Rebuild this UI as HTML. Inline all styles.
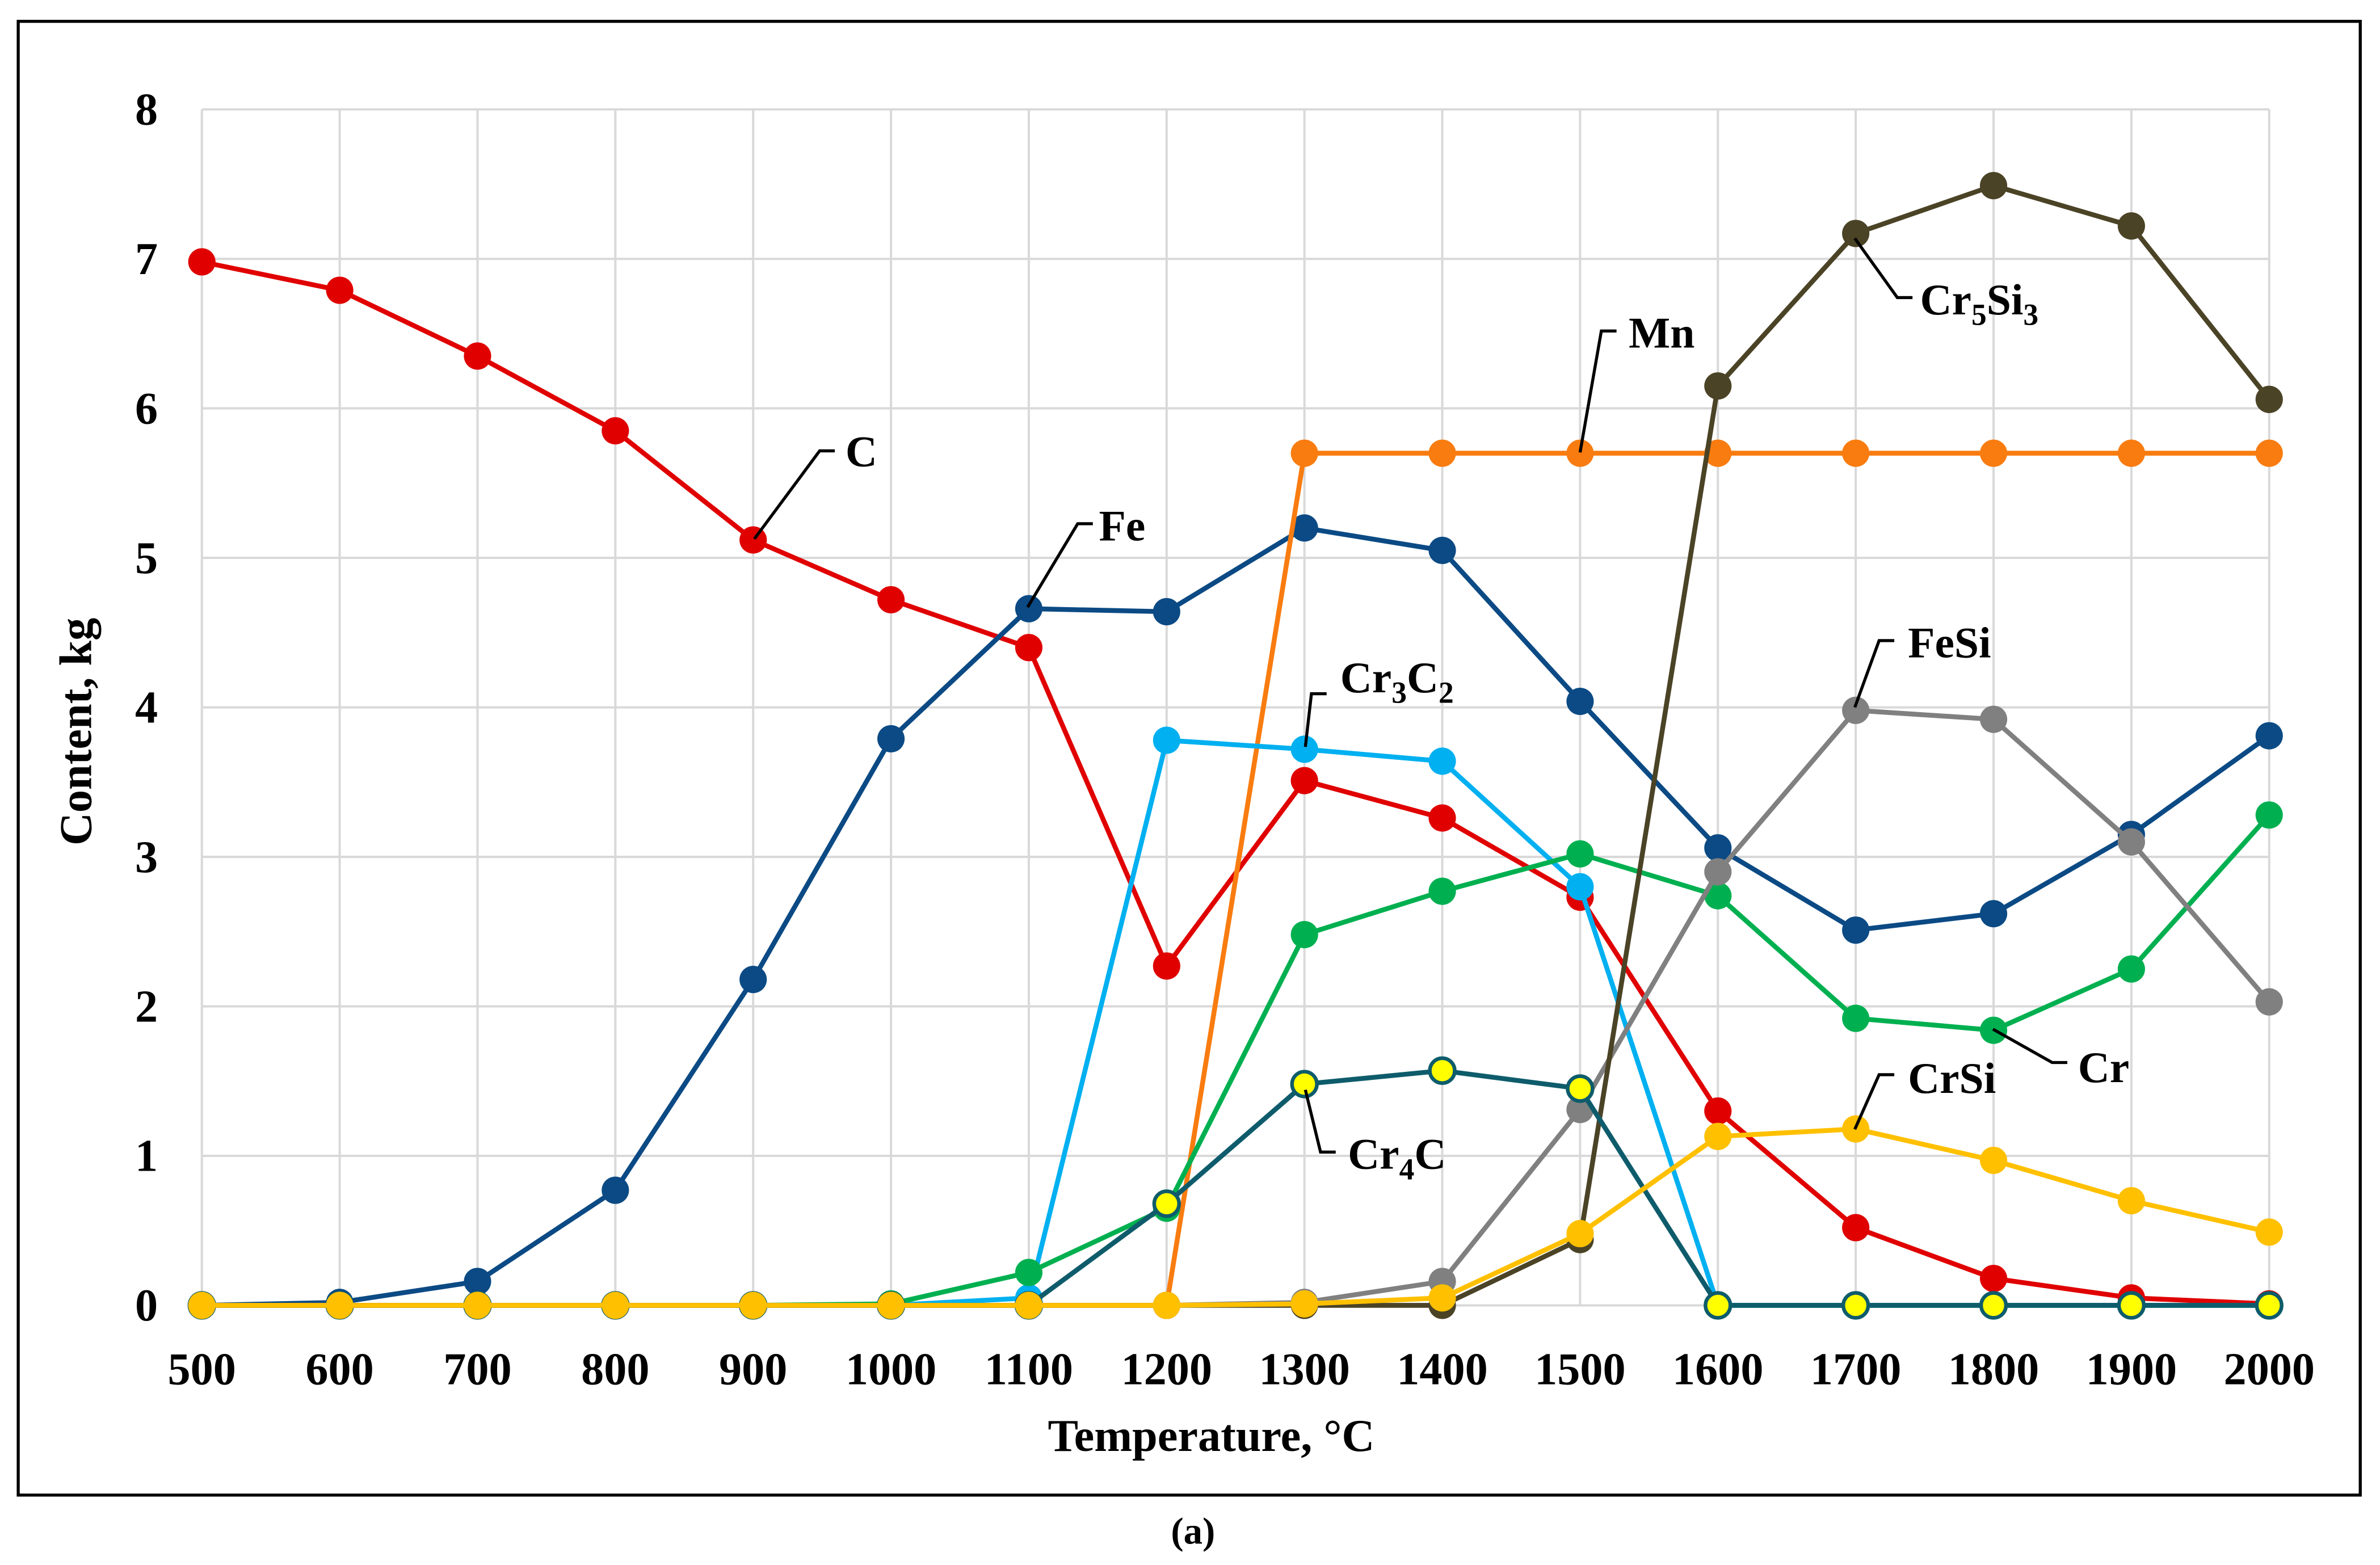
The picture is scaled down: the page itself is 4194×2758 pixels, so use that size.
<!DOCTYPE html>
<html><head><meta charset="utf-8"><style>
html,body{margin:0;padding:0;background:#fff;}
svg{display:block;}
text{font-family:"Liberation Serif",serif;font-weight:bold;fill:#000;}
</style></head><body>
<svg id="chart" width="4194" height="2758" viewBox="0 0 1568 1031" xmlns="http://www.w3.org/2000/svg">
<rect x="12" y="14" width="1543" height="971" fill="#fff" stroke="#000" stroke-width="2"/>
<g id="grid"></g>
<g id="series"></g>
<g id="axes"></g>
<text x="798" y="956" font-size="30" text-anchor="middle">Temperature, °C</text>
<text transform="translate(60,482) rotate(-90)" font-size="30" text-anchor="middle">Content, kg</text>
<text x="786" y="1017" font-size="25" text-anchor="middle" font-weight="normal">(<tspan font-weight="bold">a</tspan>)</text>
<g id="labels" font-size="29"></g>
</svg>
<script>
const temps = [500,600,700,800,900,1000,1100,1200,1300,1400,1500,1600,1700,1800,1900,2000];
const yTicks = [0,1,2,3,4,5,6,7,8];
const C = [6.98,6.79,6.35,5.85,5.12,4.72,4.40,2.27,3.51,3.26,2.73,1.30,0.52,0.18,0.05,0.01];
const Fe = [0,0.02,0.16,0.77,2.18,3.79,4.66,4.64,5.20,5.05,4.04,3.06,2.51,2.62,3.15,3.81];
const Mn = [0,0,0,0,0,0,0,0,5.70,5.70,5.70,5.70,5.70,5.70,5.70,5.70];
const Cr3C2 = [0,0,0,0,0,0,0.05,3.78,3.72,3.64,2.80,0,0,0,0,0];
const Cr = [0,0,0,0,0,0.01,0.22,0.65,2.48,2.77,3.02,2.74,1.92,1.84,2.25,3.28];
const FeSi = [0,0,0,0,0,0,0,0,0.02,0.16,1.31,2.90,3.98,3.92,3.10,2.03];
const Cr5Si3 = [0,0,0,0,0,0,0,0,0,0,0.44,6.15,7.17,7.49,7.22,6.06];
const Cr4C = [0,0,0,0,0,0,0,0.68,1.48,1.57,1.45,0,0,0,0,0];
const CrSi = [0,0,0,0,0,0,0,0,0.01,0.05,0.48,1.13,1.18,0.97,0.70,0.49];

const NS="http://www.w3.org/2000/svg";
const X0=133,X1=1495,Y0=860,Y8=72;
const xs=t=>X0+(t-500)/(1500)*(X1-X0);
const ys=v=>Y0-v/8*(Y0-Y8);
function mk(tag,attrs,parent){const e=document.createElementNS(NS,tag);for(const k in attrs)e.setAttribute(k,attrs[k]);parent.appendChild(e);return e;}
const grid=document.getElementById('grid'),axes=document.getElementById('axes'),ser=document.getElementById('series'),lab=document.getElementById('labels');
yTicks.forEach(v=>{
  const l=mk('line',{x1:X0,x2:X1,y1:ys(v),y2:ys(v),stroke:'#d9d9d9','stroke-width':1.5},grid);
  
  
  const t=mk('text',{x:104,y:ys(v)+10,'font-size':30,'text-anchor':'end'},axes);
  t.textContent=v;
  
  
});
temps.forEach(tv=>{
  const l=mk('line',{x1:xs(tv),x2:xs(tv),y1:Y8,y2:Y0,stroke:'#d9d9d9','stroke-width':1.5},grid);
  
  
  const t=mk('text',{x:xs(tv),y:912,'font-size':30,'text-anchor':'middle'},axes);
  t.textContent=tv;
  
  
});
const seriesList=[
 ['c',C,'#e00000','#e00000'],
 ['fe',Fe,'#0b4a84','#0b4a84'],
 ['mn',Mn,'#f97c10','#f97c10'],
 ['cr3c2',Cr3C2,'#00b0f0','#00b0f0'],
 ['cr',Cr,'#00b050','#00b050'],
 ['fesi',FeSi,'#808080','#808080'],
 ['cr5si3',Cr5Si3,'#4b4326','#4b4326'],
 ['cr4c',Cr4C,'#0e5c6b','#ffff00'],
 ['crsi',CrSi,'#ffc000','#ffc000']
];
seriesList.forEach(([name,vals,col,fill])=>{
  const g=mk('g',{},ser);
  
  
  const pts=vals.map((v,i)=>xs(temps[i])+','+ys(v)).join(' ');
  const pl=mk('polyline',{points:pts,fill:'none',stroke:col,'stroke-width':3.2,'stroke-linejoin':'round'},g);
  
  
  vals.forEach((v,i)=>{
    const c=mk('circle',{cx:xs(temps[i]),cy:ys(v),r:fill===col?9:8.2,fill:fill,stroke:col,'stroke-width':fill===col?0:2.4},g);
    
    
  });
});
const labels=[
 ['c','C',497,355,540,297,557,307],
 ['fe','Fe',677,400,710,345,724,356],
 ['cr3c2','Cr<tspan font-size="20" dy="7">3</tspan><tspan dy="-7">C</tspan><tspan font-size="20" dy="7">2</tspan>',860,492,864,457,883,456],
 ['mn','Mn',1041,298,1055,218,1073,229],
 ['cr5si3','Cr<tspan font-size="20" dy="7">5</tspan><tspan dy="-7">Si</tspan><tspan font-size="20" dy="7">3</tspan>',1222,157,1250,196,1265,207],
 ['fesi','FeSi',1222,466,1238,422,1257,433],
 ['cr','Cr',1313,678,1352,700,1369,713],
 ['crsi','CrSi',1222,744,1238,708,1257,720],
 ['cr4c','Cr<tspan font-size="20" dy="7">4</tspan><tspan dy="-7">C</tspan>',860,718,870,759,888,770]
];
labels.forEach(([n,txt,ax,ay,bx,by,tx,ty])=>{
  const p=mk('polyline',{points:`${ax},${ay} ${bx},${by} ${bx+10},${by}`,fill:'none',stroke:'#000','stroke-width':2},lab);
  
  
  const t=mk('text',{x:tx,y:ty},lab);
  t.innerHTML=txt;
  
  
});
</script>
</body></html>
